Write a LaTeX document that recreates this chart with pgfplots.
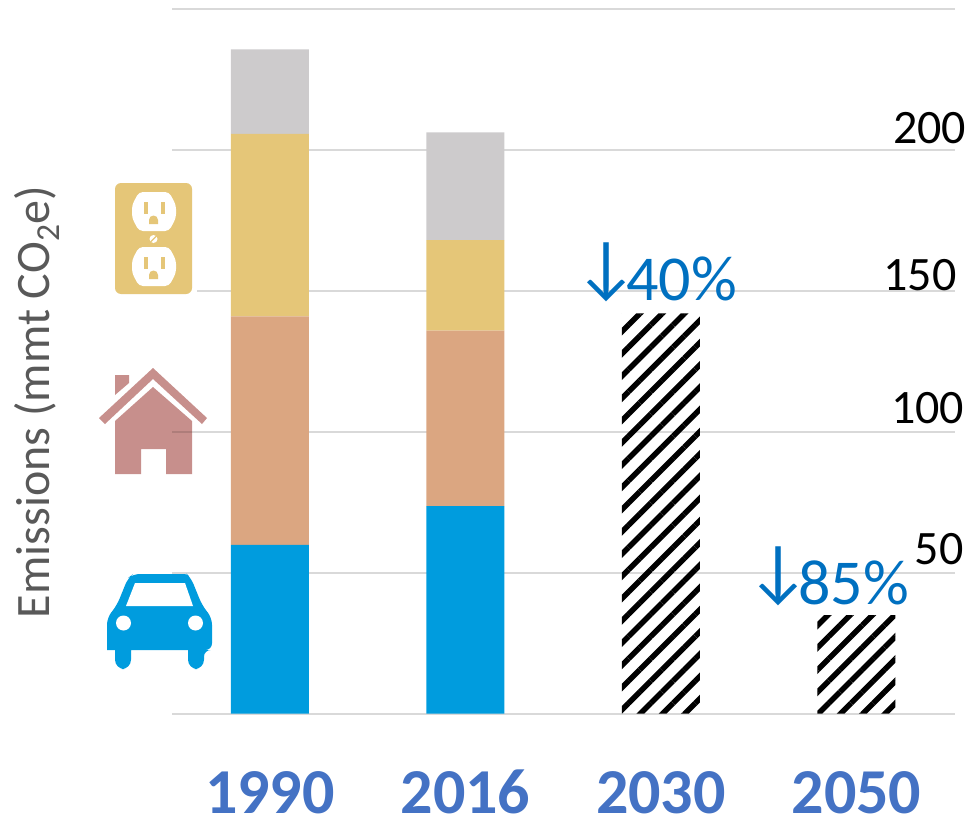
\documentclass[border=0pt]{standalone}
\usepackage{pgfplots}
\pgfplotsset{compat=1.18}
\usepackage{fontspec}
\setmainfont{Carlito}
\usetikzlibrary{patterns.meta}
\definecolor{cgrey}{HTML}{CDCBCC}
\definecolor{ctan}{HTML}{E5C678}
\definecolor{csal}{HTML}{DBA681}
\definecolor{cblue}{HTML}{009CDE}
\definecolor{chouse}{HTML}{C78F8C}
\definecolor{cgrid}{HTML}{D9D9D9}
\definecolor{cyear}{HTML}{4472C4}
\definecolor{cnote}{HTML}{0070C0}
\definecolor{clabel}{HTML}{595959}
\newcommand{\darrow}{\raisebox{7.25pt}{\fontsize{53}{53}\selectfont ↓}\kern-9pt}
\begin{document}
\begin{tikzpicture}
\useasboundingbox (0,0) rectangle (727.5pt,-615pt);
\begin{axis}[
  at={(129pt,-535.125pt)}, anchor=south west,
  scale only axis, width=587.25pt, height=528.4pt,
  xmin=-0.501, xmax=3.504, ymin=0, ymax=250,
  axis line style={draw=none},
  ybar stacked, bar width=58.5pt,
  xtick={0,1,2,3}, xticklabels={1990,2016,2030,2050},
  ytick={0,50,100,150,200,250}, yticklabels={},
  major tick length=0pt,
  ymajorgrids, grid style={cgrid,line width=1.5pt},
  tick label style={font=\fontsize{48}{48}\selectfont\bfseries,text=cyear},
  xticklabel style={inner sep=0pt,text height=32pt,text depth=0pt,yshift=-42.75pt},
  clip=false, axis on top=false,
]
\addplot[draw=none,fill=cblue] coordinates {(0,59.8)(1,73.6)(2,0)(3,0)};
\addplot[draw=none,fill=csal] coordinates {(0,81.1)(1,62.3)(2,0)(3,0)};
\addplot[draw=none,fill=ctan] coordinates {(0,64.8)(1,32.1)(2,0)(3,0)};
\addplot[draw=none,fill=cgrey] coordinates {(0,30.0)(1,38.2)(2,0)(3,0)};
\addplot[draw=none,pattern={Lines[angle=45,distance=11.8pt,line width=4pt]},pattern color=black] coordinates {(0,0)(1,0)(2,142)(3,34.9)};
\end{axis}
\begin{scope}[x=.75pt,y=-.75pt]
% value labels
\node[font=\fontsize{36}{36}\selectfont,anchor=center] at (929.5,128) {200};
\node[font=\fontsize{36}{36}\selectfont,anchor=center] at (920,275) {150};
\node[font=\fontsize{36}{36}\selectfont,anchor=center] at (927.5,408) {100};
\node[font=\fontsize{36}{36}\selectfont,anchor=center] at (939,549) {50};
% notes
\node[font=\fontsize{48}{48}\selectfont,text=cnote,anchor=south west,inner sep=0pt] at (574,302) {\darrow 40\%};
\node[font=\fontsize{48}{48}\selectfont,text=cnote,anchor=south west,inner sep=0pt] at (746,606) {\darrow 85\%};
% axis title
\node[font=\fontsize{36}{36}\selectfont,text=clabel,rotate=90,anchor=center] at (37,402) {Emissions (mmt CO\textsubscript{2}e)};
% outlet
\fill[white] (108,180) rectangle (197,297);
\fill[ctan,rounded corners=4.5] (115,183) rectangle (192,294);
\fill[white,rounded corners=3] (139,192)--(169,192)--(176,205)--(176,218)--(169,231)--(139,231)--(132,218)--(132,205)--cycle;
\fill[white,rounded corners=3] (139,247)--(169,247)--(176,260)--(176,273)--(169,286)--(139,286)--(132,273)--(132,260)--cycle;
\fill[white] (153.5,239) circle (4);
\draw[ctan,line width=.8pt] (150.5,242)--(156.5,236);
\fill[ctan] (143.5,202) rectangle (147.5,214);
\fill[ctan] (160.5,202) rectangle (164.5,214);
\fill[ctan] (143.5,257) rectangle (147.5,269);
\fill[ctan] (160.5,257) rectangle (164.5,269);
\fill[ctan] (149,224)--(149,220) arc[start angle=180,end angle=360,radius=4.5]--(158,224)--cycle;
\fill[ctan] (149,279)--(149,275) arc[start angle=180,end angle=360,radius=4.5]--(158,279)--cycle;
% house
\fill[chouse] (153,368)--(207,418)--(202,424)--(153,379)--(105,424)--(99,418)--cycle;
\fill[chouse] (115,375)--(129,375)--(129,383)--(115,395)--cycle;
\fill[chouse] (153,387)--(192,421)--(192,474)--(166,474)--(166,449)--(141,449)--(141,474)--(115,474)--(115,421)--cycle;
\draw[black,opacity=.12,line width=1.5pt] (172,431.5)--(192,431.5);
% car
\fill[cblue,rounded corners=2]
  (133,574)--(187,574)[rounded corners=5]--(191,578)--(202,605)--(212,618)--(212,650)--(204,650)
  [rounded corners=7]--(204,669)--(188,669)[rounded corners=0]--(188,650)--(131,650)
  [rounded corners=7]--(131,669)--(115,669)[rounded corners=0]--(115,650)--(107,650)
  [rounded corners=5]--(107,618)--(117,605)--(128,578)--cycle;
\fill[white] (135,583)--(185,583)--(193,606)--(126,606)--cycle;
\fill[white] (123.5,623) circle (7.5) (195.5,623) circle (7.5);
\end{scope}
\end{tikzpicture}
\end{document}
